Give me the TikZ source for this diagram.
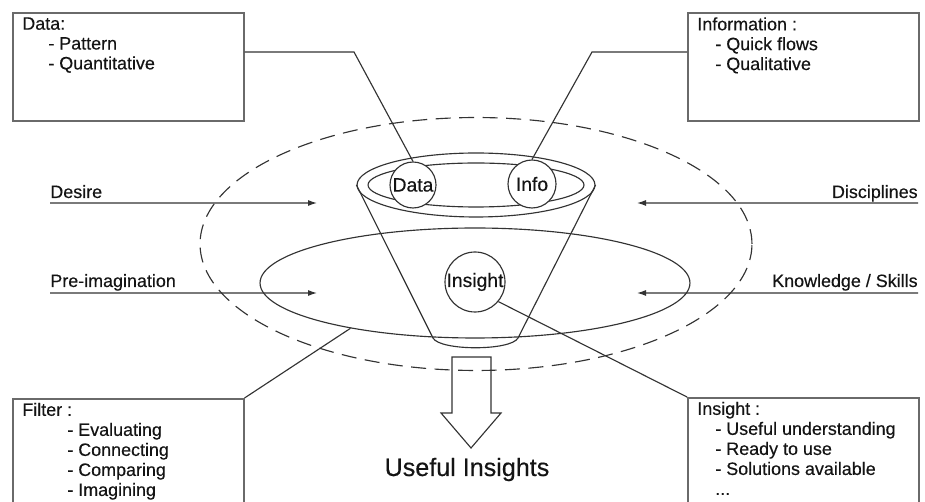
\documentclass[tikz,border=0pt]{standalone}
\usepackage{fontspec}
\setmainfont{Liberation Sans}[FakeBold=0.35]
\usetikzlibrary{arrows.meta,shapes.geometric}
\definecolor{ink}{HTML}{141414}
\definecolor{wire}{HTML}{333333}
\definecolor{frame}{HTML}{6A6A6A}

\begin{document}
\begin{tikzpicture}[x=0.02cm,y=-0.02cm,>={Latex[length=1.8mm,width=1.2mm]},
 wire/.style={draw=wire,line width=0.65pt},
 ring/.style={wire,ellipse,inner sep=0pt},
 bubble/.style={wire,circle,fill=white,inner sep=0pt,text=ink,font=\fontsize{11}{13}\selectfont},
 infobox/.style={draw=frame,line width=0.9pt,inner sep=0pt,minimum width=4.62cm,anchor=north west},
 listtext/.style={inner sep=0pt,anchor=north west,align=left,text=ink,font=\fontsize{10.2}{11.3}\selectfont},
 side/.style={inner sep=0pt,text=ink,font=\fontsize{10.2}{12}\selectfont},
 feed/.style={wire,->},
 lead/.style={wire}]
\clip (0,0) rectangle (925,502);
% rings round the funnel
\node[ring,dashed,dash pattern=on 0.3cm off 0.17cm,minimum width=11.04cm,minimum height=5.06cm] (context) at (476,244) {};
\node[ring,minimum width=8.6cm,minimum height=2.2cm] (filterring) at (475,283) {};
% the funnel
\coordinate (conebl) at (433,338);
\coordinate (conebr) at (518,338);
\node[ring,minimum width=4.76cm,minimum height=1.28cm] (funneltop) at (476,185) {};
\node[ring,minimum width=4.32cm,minimum height=0.88cm] (funnelin) at (476,185) {};
\draw[wire] (funneltop.west) -- (conebl) .. controls (440,351) and (511,351) .. (conebr) -- (funneltop.east);
\node[bubble,minimum size=0.92cm] (datacirc) at (413,185) {Data};
\node[bubble,minimum size=0.96cm] (infocirc) at (532,184) {Info};
\node[bubble,minimum size=1.2cm] (insightcirc) at (475,282) {Insight};
% inputs from both sides
\node[side,anchor=base west] (desire) at (50,198) {Desire};
\node[side,anchor=base west] (preimag) at (50,287) {Pre-imagination};
\node[side,anchor=base east] (discip) at (918,198) {Disciplines};
\node[side,anchor=base east] (skills) at (918,287) {Knowledge / Skills};
\coordinate (desireend) at (317,203);
\coordinate (preimagend) at (317,293);
\coordinate (discipend) at (637,203);
\coordinate (skillsend) at (637,293);
\draw[feed] ([yshift=-0.1cm]desire.base west) -- (desireend);
\draw[feed] ([yshift=-0.12cm]preimag.base west) -- (preimagend);
\draw[feed] ([yshift=-0.1cm]discip.base east) -- (discipend);
\draw[feed] ([yshift=-0.12cm]skills.base east) -- (skillsend);
% the four boxes
\node[infobox,minimum height=2.16cm] (databox) at (12,12) {};
\node[infobox,minimum height=2.16cm] (infobox) at (687,12) {};
\node[infobox,minimum height=2.5cm] (filterbox) at (12,398) {};
\node[infobox,minimum height=2.5cm] (insightbox) at (687,397) {};
\node[listtext] (datatext) at ([xshift=0.2cm,yshift=-0.1cm]databox.north west)
 {Data:\\\hspace*{0.52cm}- Pattern\\\hspace*{0.52cm}- Quantitative};
\node[listtext] (infotext) at ([xshift=0.2cm,yshift=-0.1cm]infobox.north west)
 {Information :\\\hspace*{0.36cm}- Quick flows\\\hspace*{0.36cm}- Qualitative};
\node[listtext,font=\fontsize{10.2}{11.4}\selectfont] (filtertext) at ([xshift=0.2cm,yshift=-0.09cm]filterbox.north west)
 {Filter :\\\hspace*{0.9cm}- Evaluating\\\hspace*{0.9cm}- Connecting\\\hspace*{0.9cm}- Comparing\\\hspace*{0.9cm}- Imagining};
\node[listtext,font=\fontsize{10.2}{11.4}\selectfont] (insighttext) at ([xshift=0.2cm,yshift=-0.09cm]insightbox.north west)
 {Insight :\\\hspace*{0.36cm}- Useful understanding\\\hspace*{0.36cm}- Ready to use\\\hspace*{0.36cm}- Solutions available\\\hspace*{0.36cm}...};
% leaders from boxes
\draw[lead] ([yshift=-0.8cm]databox.north east) -- (354,52) -- (datacirc.north);
\draw[lead] ([yshift=-0.8cm]infobox.north west) -- (592,52) -- (infocirc.north);
\draw[lead] (filterbox.north east) -- (filterring.200);
\draw[lead] (insightcirc.-40) -- (insightbox.north west);
% output
\draw[wire] (452,357) -- (491,357) -- (491,413) -- (501,413) -- (471,448) -- (441,413) -- (452,413) -- cycle;
\node[inner sep=0pt,anchor=base,text=ink,font=\fontsize{14.3}{16}\selectfont] (useful) at (467,476) {Useful Insights};
\end{tikzpicture}
\end{document}
